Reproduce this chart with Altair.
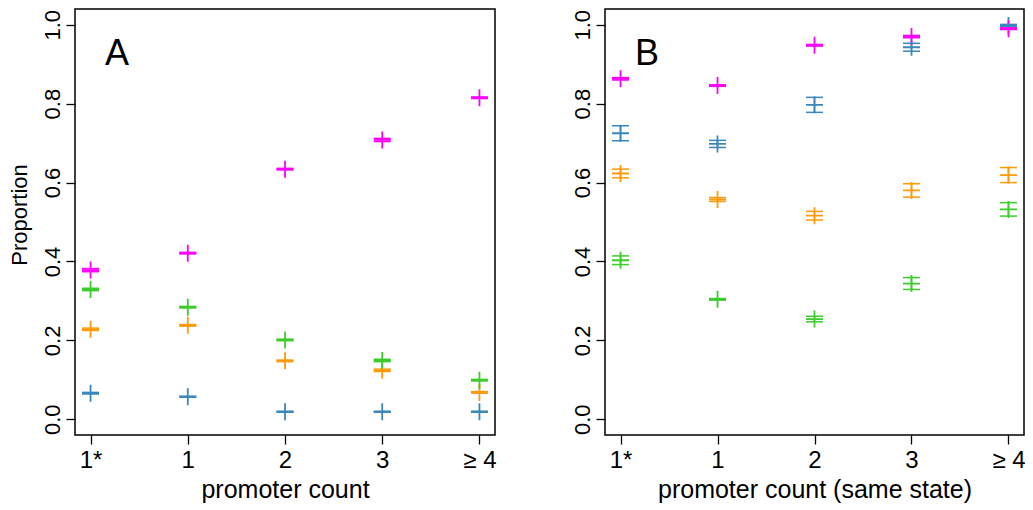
import altair as alt
import pandas as pd

# ---- data ----
categories = ["1*", "1", "2", "3", "≥ 4"]
series_names = ["blue", "orange", "green", "magenta"]
series_colors = ["#3a88bb", "#ff9a0a", "#3ccc2c", "#ff00ff"]

# Panel A: promoter count
a_blue = [0.066, 0.057, 0.019, 0.019, 0.019]
a_orange = [0.228, 0.238, 0.148, 0.124, 0.068]
a_green = [0.329, 0.284, 0.201, 0.149, 0.099]
a_magenta = [0.378, 0.421, 0.634, 0.708, 0.815]
a_blue_err = [0.002, 0.001, 0.001, 0.001, 0.001]
a_orange_err = [0.003, 0.002, 0.002, 0.003, 0.002]
a_green_err = [0.003, 0.002, 0.002, 0.003, 0.002]
a_magenta_err = [0.004, 0.002, 0.002, 0.004, 0.002]

# Panel B: promoter count (same state)
b_blue = [0.725, 0.698, 0.797, 0.943, 0.998]
b_orange = [0.623, 0.557, 0.516, 0.580, 0.619]
b_green = [0.403, 0.304, 0.254, 0.344, 0.532]
b_magenta = [0.863, 0.846, 0.948, 0.970, 0.990]
b_blue_err = [0.019, 0.009, 0.019, 0.010, 0.003]
b_orange_err = [0.011, 0.005, 0.011, 0.017, 0.019]
b_green_err = [0.011, 0.002, 0.007, 0.015, 0.017]
b_magenta_err = [0.003, 0.002, 0.002, 0.003, 0.002]

y_ticks = [0.0, 0.2, 0.4, 0.6, 0.8, 1.0]


def build(values, errs):
    rows = []
    for name, vals, es in zip(series_names, values, errs):
        for i, (v, e) in enumerate(zip(vals, es)):
            rows.append({"x": i + 1, "series": name, "val": v,
                         "lo": v - e, "hi": v + e})
    return pd.DataFrame(rows)


df_a = build([a_blue, a_orange, a_green, a_magenta],
             [a_blue_err, a_orange_err, a_green_err, a_magenta_err])
df_b = build([b_blue, b_orange, b_green, b_magenta],
             [b_blue_err, b_orange_err, b_green_err, b_magenta_err])

FONT = "Liberation Sans"
H = 426
label_expr = "[" + ",".join("'" + c + "'" for c in categories) + "][datum.value - 1]"
color = alt.Color("series:N", scale=alt.Scale(domain=series_names, range=series_colors),
                  legend=None)
yscale = alt.Scale(domain=[-0.04, 1.04], nice=False, zero=False)


def panel(df, letter, xtitle, ytitle, w):
    x = alt.X("x:Q",
              scale=alt.Scale(domain=[0.84, 5.16], nice=False, zero=False),
              axis=alt.Axis(values=[1, 2, 3, 4, 5], labelExpr=label_expr,
                            labelFontSize=24, labelBaseline="alphabetic",
                            labelPadding=23, labelFlush=False,
                            title=xtitle, titleFontSize=25,
                            titleBaseline="alphabetic", titleX=w / 2, titleY=62,
                            titleAlign="center"))
    yaxis = dict(values=y_ticks, format=".1f", labelAngle=-90, labelAlign="center",
                 labelBaseline="alphabetic", labelPadding=7, labelFontSize=22,
                 labelFlush=False)
    if ytitle:
        yaxis.update(title=ytitle, titleFontSize=22, titleAngle=-90,
                     titleBaseline="alphabetic", titleX=-49, titleY=205.5,
                     titleAlign="center")
        y = alt.Y("val:Q", scale=yscale, axis=alt.Axis(**yaxis))
    else:
        y = alt.Y("val:Q", scale=yscale, axis=alt.Axis(**yaxis), title=None)

    base = alt.Chart(df)
    rule = base.mark_rule(strokeWidth=1.5).encode(
        x=x, y=alt.Y("lo:Q", scale=yscale), y2="hi:Q", color=color)
    cap_lo = base.mark_point(shape="M-1,0H1", filled=False, size=289, strokeWidth=1.5,
                             opacity=1).encode(x=x, y="lo:Q", color=color)
    cap_hi = base.mark_point(shape="M-1,0H1", filled=False, size=289, strokeWidth=1.5,
                             opacity=1).encode(x=x, y="hi:Q", color=color)
    plus = base.mark_point(shape="M-1,0H1M0,-1V1", filled=False, size=289,
                           strokeWidth=1.8, opacity=1).encode(x=x, y=y, color=color)
    lab = alt.Chart(pd.DataFrame({"t": [letter]})).mark_text(
        font=FONT, fontSize=36, align="left", baseline="alphabetic", color="black"
    ).encode(text="t:N", x=alt.value(30), y=alt.value(56))
    return alt.layer(plus, rule, cap_lo, cap_hi, lab).properties(width=w, height=H)


pa = panel(df_a, "A", "promoter count", "Proportion", 420)
pb = panel(df_b, "B", "promoter count (same state)", None, 419)

# svg kept at 1017 x 494 so the page (8px margins) never overflows the window
chart = alt.hconcat(pa, pb, spacing=110, bounds="flush").properties(
    autosize=alt.AutoSizeParams(type="none"),
    padding={"left": 67, "top": 1, "right": 950, "bottom": 493}
).configure_view(stroke="black", strokeWidth=1.5).configure_axis(
    grid=False, domain=False, tickColor="black", tickWidth=1.3, tickSize=9,
    labelColor="black", titleColor="black", labelFont=FONT, titleFont=FONT,
    titleFontWeight="normal"
)

chart.save("out.html", embed_options={"renderer": "svg", "actions": False})
